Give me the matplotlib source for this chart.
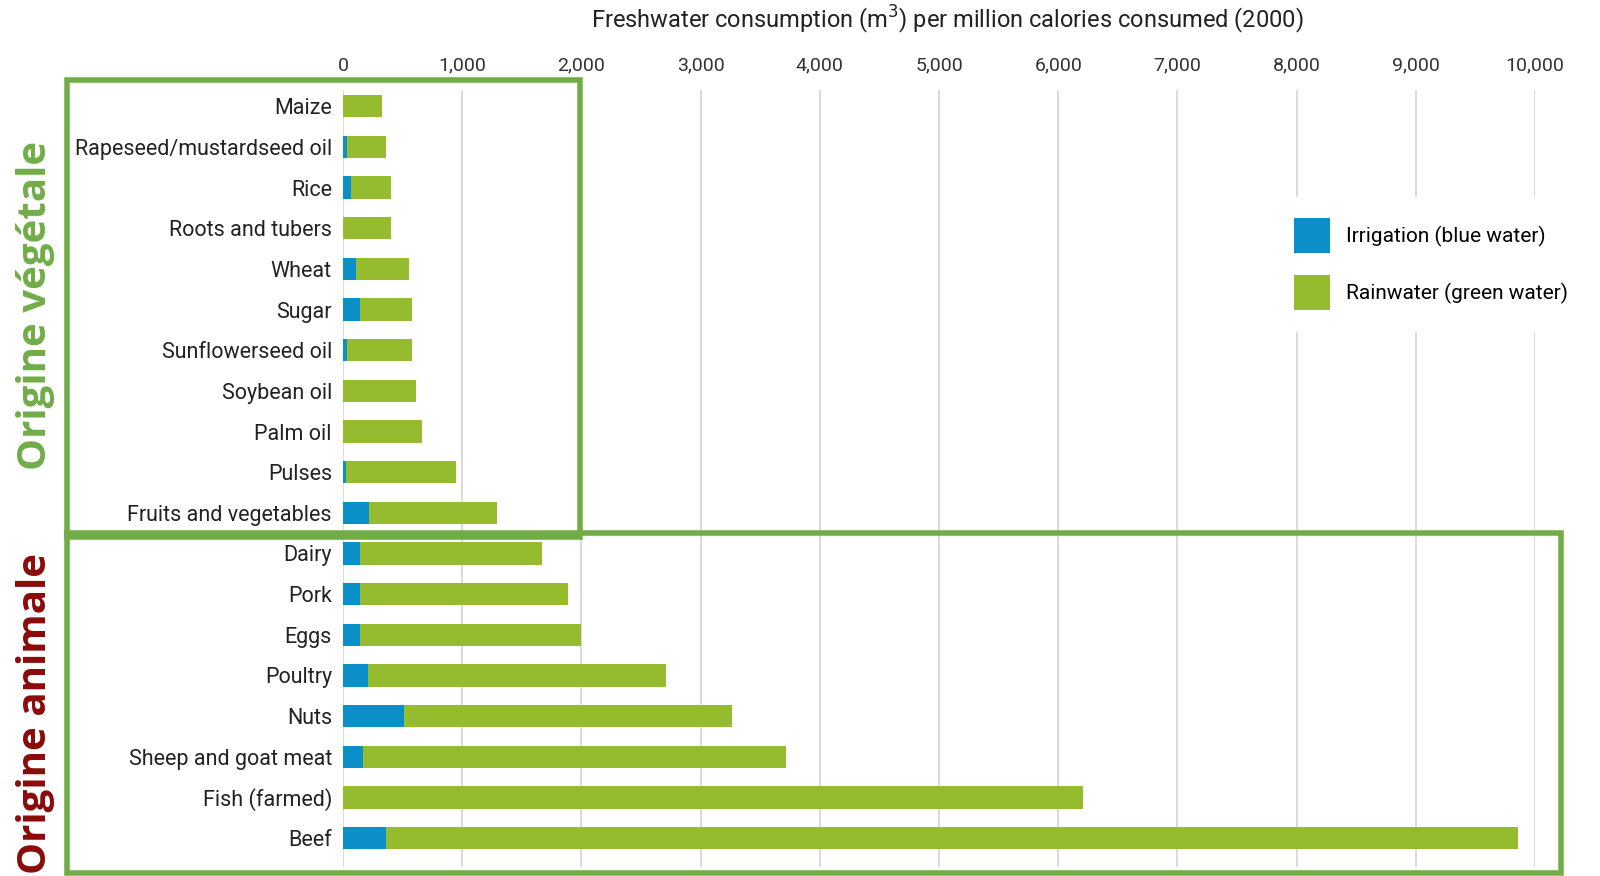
import matplotlib
matplotlib.use("Agg")
import matplotlib.pyplot as plt
from matplotlib.patches import Rectangle

plt.rcParams['font.family'] = ['Roboto', 'DejaVu Sans']

# ── data (m3 per million calories) ──
foods = ['Maize', 'Rapeseed/mustardseed oil', 'Rice', 'Roots and tubers', 'Wheat',
         'Sugar', 'Sunflowerseed oil', 'Soybean oil', 'Palm oil', 'Pulses',
         'Fruits and vegetables', 'Dairy', 'Pork', 'Eggs', 'Poultry', 'Nuts',
         'Sheep and goat meat', 'Fish (farmed)', 'Beef']
total = [325, 360, 400, 400, 550, 580, 580, 615, 660, 950,
         1290, 1665, 1885, 2000, 2710, 3260, 3715, 6210, 9860]
blue = [0, 35, 70, 0, 105, 140, 30, 0, 0, 25,
        215, 140, 140, 140, 210, 515, 170, 0, 360]
green = [t - b for t, b in zip(total, blue)]
xticks = list(range(0, 10001, 1000))

BLUE = '#0b8fc8'
GREEN = '#95bc2e'
BOX = '#70ad47'

fig = plt.figure(figsize=(16, 8.76), dpi=100)
ax = fig.add_axes([0.2144, 0.0103, 0.7450, 0.8870])

y = list(range(len(foods)))
ax.barh(y, blue, height=0.55, color=BLUE, label='Irrigation (blue water)')
ax.barh(y, green, left=blue, height=0.55, color=GREEN, label='Rainwater (green water)')

ax.set_xlim(0, 10000)
ax.set_ylim(len(foods) - 1 + 0.71, -0.4)
ax.set_yticks(y)
ax.set_yticklabels(foods, fontsize=15.5, color='#222222')
ax.set_xticks(xticks)
ax.set_xticklabels([f'{v:,}' for v in xticks], fontsize=14, color='#333333')
ax.xaxis.tick_top()
ax.tick_params(axis='both', length=0)
ax.tick_params(axis='y', pad=8)
ax.tick_params(axis='x', pad=11)
ax.grid(True, axis='x', color='#d4d4d4', linewidth=1.2)
ax.set_axisbelow(True)
for s in ax.spines.values():
    s.set_visible(False)

ax.legend(loc='upper left', bbox_to_anchor=(0.7715, 0.876), fontsize=15,
          handlelength=1.71, handleheight=2.26, labelspacing=1.02,
          handletextpad=0.78, frameon=True, facecolor='white',
          edgecolor='white', framealpha=1, borderpad=1.0, fancybox=False)

fig.text(0.592, 0.977, 'Freshwater consumption (m$^3$) per million calories consumed (2000)',
         ha='center', va='center', fontsize=17, color='#222222')

# group boxes
fig.patches.append(Rectangle((67 / 1600, 1 - 537 / 876), (580 - 67) / 1600, (537 - 80) / 876,
                             transform=fig.transFigure, fill=False, edgecolor=BOX,
                             linewidth=4, zorder=5))
fig.patches.append(Rectangle((67 / 1600, 1 - 873 / 876), (1561 - 67) / 1600, (873 - 533) / 876,
                             transform=fig.transFigure, fill=False, edgecolor=BOX,
                             linewidth=4, zorder=5))

fig.text(36 / 1600, 1 - 305 / 876, 'Origine végétale', rotation=90, ha='center', va='center',
         fontsize=29, fontweight='bold', color=BOX, family='Open Sans')
fig.text(36 / 1600, 1 - 714 / 876, 'Origine animale', rotation=90, ha='center', va='center',
         fontsize=29, fontweight='bold', color='#8b0a0a', family='Open Sans')

fig.savefig('out.png', dpi=100)
